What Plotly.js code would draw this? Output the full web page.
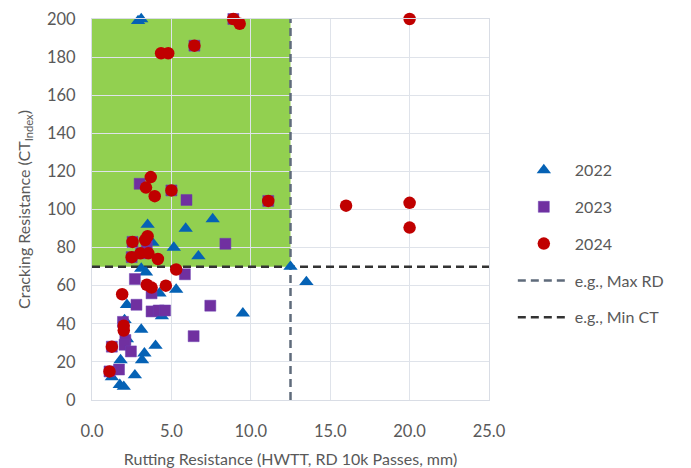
<!DOCTYPE html>
<html>
<head>
<meta charset="utf-8">
<script src="https://cdn.plot.ly/plotly-3.0.1.min.js"></script>
<style>html,body{margin:0;padding:0;background:#fff;}#chart{width:691px;height:468px;}</style>
</head>
<body>
<div id="chart"></div>
<script>
// 2022 (triangles)
const x2022 = [2.9, 3.1, 3.5, 5.9, 7.6, 3.8, 5.15, 6.7, 3.1, 12.5, 3.4, 13.5, 5.3, 4.25, 2.2, 4.4, 9.5, 2.05, 3.1, 2.2, 4.0, 3.3, 3.15, 1.8, 2.7, 1.25, 1.75, 2.0];
const y2022 = [199, 200, 92, 90, 95, 82.6, 80, 75.5, 69, 70, 67, 62, 58, 56, 50, 44, 45.5, 42, 37, 32, 28.5, 24.5, 21, 21, 13, 12, 8, 7];
// 2023 (squares)
const x2023 = [8.9, 6.45, 3.0, 5.0, 5.95, 11.1, 8.4, 2.55, 3.45, 2.5, 3.1, 5.85, 2.7, 3.75, 2.8, 7.45, 3.75, 4.2, 4.6, 1.95, 6.4, 2.1, 2.05, 1.25, 2.45, 1.7, 1.1];
const y2023 = [200, 186, 113.5, 110, 105, 104.5, 82, 83, 81, 75, 77, 66, 63.5, 56, 50, 49.5, 46.5, 47, 47, 41, 33.5, 31.5, 29, 28, 25.5, 16, 15];
// 2024 (circles)
const x2024 = [20, 8.9, 9.3, 6.45, 4.35, 4.8, 3.7, 3.4, 3.95, 5.0, 11.1, 16.0, 20.0, 20.0, 3.5, 3.35, 2.55, 2.5, 3.05, 3.55, 4.15, 5.3, 3.45, 3.75, 4.65, 1.9, 2.0, 2.0, 1.25, 1.1];
const y2024 = [200, 200, 197.5, 186, 182, 182, 117, 111.5, 107, 110, 104.5, 102, 103.5, 90.5, 86, 84, 83, 75, 77, 77, 74, 68.5, 60.5, 59, 60, 55.5, 39, 36.5, 28, 15];
// Threshold lines
const maxRD = 12.5;
const minCT = 70;
const xRange = [0, 25];
const yRange = [0, 200];

const FONT = 'Lato, "Open Sans", sans-serif';
const GREY = '#595959';

const data = [
  {type:'scatter', mode:'lines', name:'e.g., Max RD', x:[maxRD, maxRD], y:yRange,
   line:{color:'#5f6b7b', width:2.5, dash:'8px,5px'}, legendrank:4, legendgroup:'d', cliponaxis:false, hoverinfo:'skip'},
  {type:'scatter', mode:'lines', name:'e.g., Min CT', x:xRange, y:[minCT, minCT],
   line:{color:'#333333', width:2.5, dash:'8px,5px'}, legendrank:5, legendgroup:'e', cliponaxis:false, hoverinfo:'skip'},
  {type:'scatter', mode:'markers', name:'2022', x:x2022, y:y2022, legendrank:1, legendgroup:'a', cliponaxis:false,
   marker:{symbol:'triangle-up', size:12.5, color:'#0562b5'}},
  {type:'scatter', mode:'markers', name:'2023', x:x2023, y:y2023, legendrank:2, legendgroup:'b', cliponaxis:false,
   marker:{symbol:'square', size:11, color:'#7030a0', line:{color:'#6a3fb0', width:0.5}}},
  {type:'scatter', mode:'markers', name:'2024', x:x2024, y:y2024, legendrank:3, legendgroup:'c', cliponaxis:false,
   marker:{symbol:'circle', size:12.5, color:'#c00000'}}
];

const layout = {
  width:691, height:468,
  margin:{l:92, r:202, t:19, b:68},
  paper_bgcolor:'#ffffff', plot_bgcolor:'#ffffff',
  font:{family:FONT, size:16, color:GREY},
  showlegend:true,
  legend:{x:1.06, y:0.648, xanchor:'left', yanchor:'top', font:{family:FONT, size:16, color:GREY},
          tracegroupgap:13, itemwidth:52, bgcolor:'rgba(0,0,0,0)'},
  xaxis:{range:xRange, dtick:5, tick0:0, tickformat:'.1f', showgrid:true, gridcolor:'#dfe3ea', gridwidth:1,
         zeroline:false, showline:true, mirror:true, linecolor:'#d9dde5', linewidth:1,
         ticks:'', ticklabelstandoff:16, tickfont:{family:FONT, size:16.5, color:GREY},
         title:{text:'Rutting Resistance (HWTT, RD 10k Passes, mm)', font:{family:FONT, size:16, color:GREY}, standoff:14}},
  yaxis:{range:yRange, dtick:20, tick0:0, showgrid:true, gridcolor:'#dfe3ea', gridwidth:1,
         zeroline:false, showline:true, mirror:true, linecolor:'#d9dde5', linewidth:1,
         ticks:'', ticklabelstandoff:12, tickfont:{family:FONT, size:16.5, color:GREY},
         title:{text:'Cracking Resistance (CT<sub>Index</sub>)', font:{family:FONT, size:16, color:GREY}, standoff:12}},
  shapes:[{type:'rect', xref:'x', yref:'y', x0:xRange[0], x1:maxRD, y0:minCT, y1:yRange[1],
           fillcolor:'#92d050', line:{width:0}, layer:'below'}]
};

Plotly.newPlot('chart', data, layout, {displayModeBar:false, staticPlot:true});
</script>
</body>
</html>
